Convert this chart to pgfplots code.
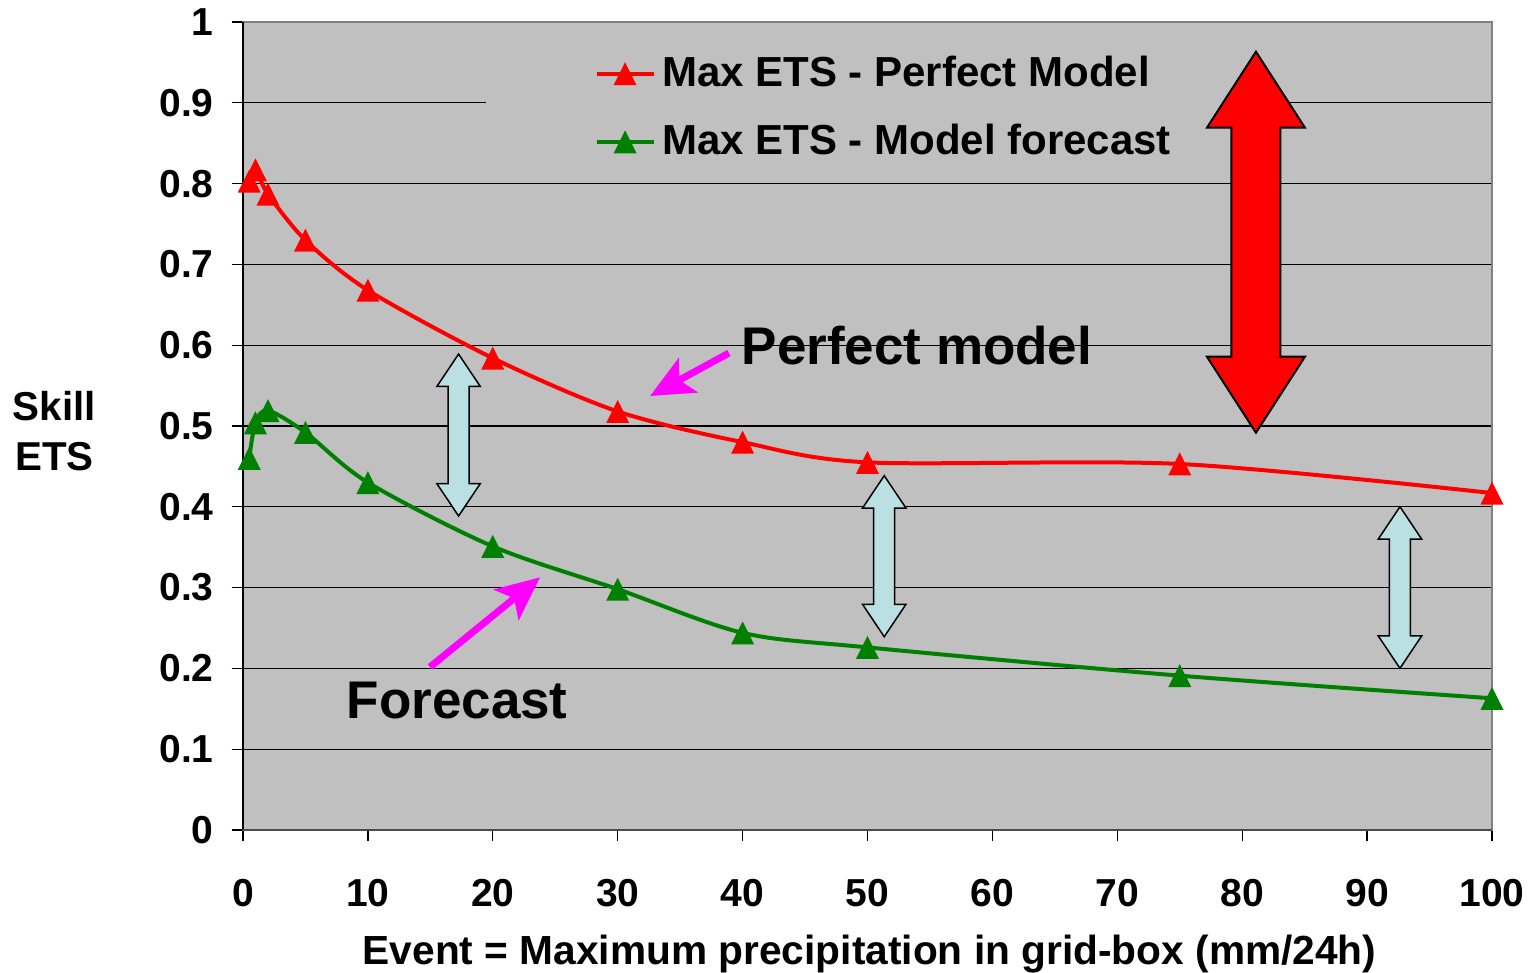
\documentclass[border=0pt]{standalone}
\usepackage{fontspec}
\setmainfont{Liberation Sans}
\usepackage{pgfplots}
\pgfplotsset{compat=1.18}
\usetikzlibrary{arrows.meta}

\definecolor{plotbg}{HTML}{C0C0C0}
\definecolor{etsred}{HTML}{FF0000}
\definecolor{etsgreen}{HTML}{008000}
\definecolor{arrowblue}{HTML}{BBE0E3}
\definecolor{pointer}{HTML}{FF00FF}

% triangle centred on its box, as Excel draws it
\pgfdeclareplotmark{xtri}{%
  \pgfpathmoveto{\pgfqpoint{0pt}{\pgfplotmarksize}}%
  \pgfpathlineto{\pgfqpoint{-\pgfplotmarksize}{-\pgfplotmarksize}}%
  \pgfpathlineto{\pgfqpoint{\pgfplotmarksize}{-\pgfplotmarksize}}%
  \pgfpathclose\pgfusepathqfill}

% vertical double block arrow: x, ytop, ybottom, half head, half shaft, head length, style
\newcommand\vdarrow[7]{%
  \draw[#7] (axis cs:#1,#2) -- ([xshift=#4,yshift=-#6]axis cs:#1,#2)
    -- ([xshift=#5,yshift=-#6]axis cs:#1,#2) -- ([xshift=#5,yshift=#6]axis cs:#1,#3)
    -- ([xshift=#4,yshift=#6]axis cs:#1,#3) -- (axis cs:#1,#3)
    -- ([xshift=-#4,yshift=#6]axis cs:#1,#3) -- ([xshift=-#5,yshift=#6]axis cs:#1,#3)
    -- ([xshift=-#5,yshift=-#6]axis cs:#1,#2) -- ([xshift=-#4,yshift=-#6]axis cs:#1,#2) -- cycle;}

\begin{document}
\begin{tikzpicture}
\begin{axis}[
    at={(0,0)}, anchor=south west,
    scale only axis,
    width=374.7pt, height=242.4pt,
    xmin=0, xmax=100, ymin=0, ymax=1,
    xtick={0,10,...,100},
    ytick={0,0.1,...,1},
    xtick pos=bottom, ytick pos=left,
    tick align=outside,
    major tick length=3.4pt,
    tick style={black, line width=0.4pt},
    /pgf/number format/assume math mode=true,
    tick label style={font=\bfseries\fontsize{11.7}{13}\selectfont},
    yticklabel style={anchor=east, xshift=-1.9pt},
    xticklabel style={anchor=base, yshift=-19.6pt},
    ymajorgrids,
    major grid style={black, line width=0.4pt},
    axis background/.style={fill=plotbg},
    axis line style={draw=gray, line width=0.5pt},
    xlabel={Event = Maximum precipitation in grid-box (mm/24h)},
    xlabel style={font=\bfseries\fontsize{12.2}{14}\selectfont,
      at={(axis description cs:0.5016,-0.1660)}, anchor=base},
    ylabel={Skill\\ETS},
    ylabel style={font=\bfseries\fontsize{12.1}{15}\selectfont, align=center,
      rotate=-90, at={(axis description cs:-0.151,0.494)}, anchor=center},
    clip=false,
    legend style={draw=none, fill=none,
      at={(axis description cs:0.281,0.967)}, anchor=north west,
      font=\bfseries\fontsize{12.6}{15}\selectfont,
      row sep=5.8pt, inner sep=0pt},
    legend cell align=left,
  ]

% hides the 0.9 grid line behind the (borderless) legend box
\fill[plotbg] (axis cs:19.46,0.885) rectangle (axis cs:83.5,0.915);

\addplot[etsred, line width=1.2pt, smooth, mark=xtri, mark size=3.45pt,
  mark options={solid, fill=etsred}] coordinates {
  (0.5,0.803) (1,0.817) (2,0.787) (5,0.730) (10,0.668) (20,0.584)
  (30,0.518) (40,0.480) (50,0.455) (75,0.453) (100,0.417)};
\addlegendentry{Max ETS - Perfect Model}

\addplot[etsgreen, line width=1.2pt, smooth, mark=xtri, mark size=3.45pt,
  mark options={solid, fill=etsgreen}] coordinates {
  (0.5,0.460) (1,0.504) (2,0.519) (5,0.492) (10,0.430) (20,0.351)
  (30,0.298) (40,0.244) (50,0.226) (75,0.191) (100,0.163)};
\addlegendentry{Max ETS - Model forecast}

\draw[black, line width=0.5pt] (rel axis cs:0,0) -- (rel axis cs:0,1);
\draw[black!70, line width=0.7pt] (rel axis cs:0,0) -- (rel axis cs:1,0);

% annotations
\vdarrow{17.26}{0.589}{0.3886}{6.5pt}{3.15pt}{9.7pt}{fill=arrowblue, draw=black, line width=0.45pt}
\vdarrow{51.34}{0.4385}{0.2392}{6.5pt}{3.15pt}{9.7pt}{fill=arrowblue, draw=black, line width=0.45pt}
\vdarrow{92.63}{0.4001}{0.2001}{6.5pt}{3.15pt}{9.7pt}{fill=arrowblue, draw=black, line width=0.45pt}
\vdarrow{81.10}{0.9632}{0.4917}{14.7pt}{7.35pt}{22.8pt}{fill=etsred, draw=black, line width=0.6pt}

\draw[pointer, line width=2.1pt, -{Stealth[length=13pt, width=11.7pt, inset=3pt]}]
  (axis cs:38.91,0.5903) -- (axis cs:32.59,0.5371);
\draw[pointer, line width=2.1pt, -{Stealth[length=13pt, width=11.7pt, inset=3pt]}]
  (axis cs:14.97,0.2017) -- (axis cs:23.78,0.3127);

\node[anchor=base west, inner sep=0pt, font=\bfseries\fontsize{15.9}{18}\selectfont]
  at (axis cs:39.87,0.5755) {Perfect model};
\node[anchor=base west, inner sep=0pt, font=\bfseries\fontsize{15.9}{18}\selectfont]
  at (axis cs:8.25,0.1386) {Forecast};
\end{axis}
\pgfresetboundingbox
\path[use as bounding box] (-72.9pt,-42.6pt) rectangle (387.0pt,249.0pt);
\end{tikzpicture}
\end{document}
